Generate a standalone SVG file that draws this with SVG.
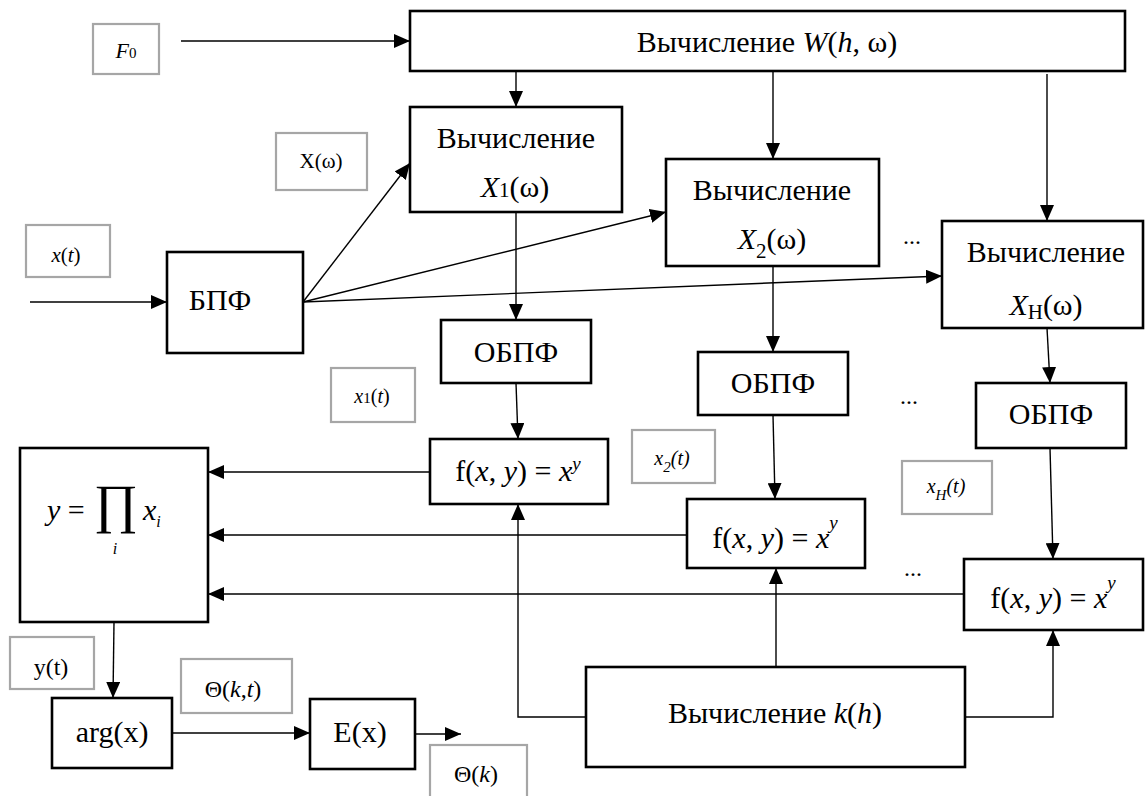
<svg xmlns="http://www.w3.org/2000/svg" width="1146" height="796" viewBox="0 0 1146 796">
<style>
.box{fill:#fff;stroke:#000;stroke-width:2.6}
.lab{fill:#fff;stroke:#a6a6a6;stroke-width:2.2}
.t{font-family:"Liberation Serif","Times New Roman",serif;font-size:30px;text-anchor:middle;fill:#000}
.s{font-family:"Liberation Serif","Times New Roman",serif;font-size:21px;text-anchor:middle;fill:#000}
.m{font-family:"Liberation Serif","Times New Roman",serif;font-size:24px;text-anchor:middle;fill:#000}
.i{font-style:italic}
.c line,.c polyline{stroke:#000;stroke-width:1.4;fill:none}
.a{marker-end:url(#arr)}
</style>
<defs>
<marker id="arr" markerUnits="userSpaceOnUse" viewBox="0 0 16 14" refX="16" refY="7" markerWidth="16" markerHeight="14" orient="auto">
<path d="M0,0 L16,7 L0,14 z" fill="#000"/>
</marker>
</defs>
<rect width="1146" height="796" fill="#fff"/>

<g id="connectors" class="c">
<line class="a" x1="181" y1="41" x2="410" y2="41"/>
<line class="a" x1="516" y1="71" x2="516" y2="107"/>
<line class="a" x1="773" y1="71" x2="773" y2="159"/>
<line class="a" x1="1047" y1="74" x2="1047" y2="221"/>
<line class="a" x1="30" y1="302" x2="167" y2="302"/>
<line class="a" x1="303" y1="302" x2="410" y2="163"/>
<line class="a" x1="303" y1="302" x2="666" y2="212"/>
<line class="a" x1="303" y1="302" x2="942" y2="276"/>
<line class="a" x1="516" y1="212" x2="516" y2="320"/>
<line class="a" x1="773" y1="266" x2="773" y2="352"/>
<line class="a" x1="1047" y1="328" x2="1050" y2="383"/>
<line class="a" x1="516" y1="383" x2="518" y2="439"/>
<line class="a" x1="773" y1="415" x2="775" y2="499"/>
<line class="a" x1="1050" y1="448" x2="1053" y2="559"/>
<line class="a" x1="430" y1="472" x2="208" y2="472"/>
<line class="a" x1="687" y1="535" x2="208" y2="535"/>
<line class="a" x1="964" y1="594" x2="208" y2="594"/>
<polyline class="a" points="586,717 518,717 518,504"/>
<line class="a" x1="776" y1="667" x2="776" y2="568"/>
<polyline class="a" points="965,717 1053,717 1053,630"/>
<line class="a" x1="114" y1="622" x2="113" y2="698"/>
<line class="a" x1="172" y1="733" x2="310" y2="733"/>
<line class="a" x1="415" y1="734" x2="461" y2="734"/>
</g>

<g id="lbl-F0"><rect class="lab" x="93" y="24" width="66" height="50"/><text class="s" x="126" y="58"><tspan class="i" style="font-size:22px">F</tspan><tspan style="font-size:15px">0</tspan></text></g>
<g id="lbl-Xw"><rect class="lab" x="276" y="133" width="91" height="57"/><text class="s" x="321" y="168">X(ω)</text></g>
<g id="lbl-xt"><rect class="lab" x="26" y="225" width="84" height="52"/><text class="s" x="66" y="262"><tspan class="i">x</tspan>(<tspan class="i">t</tspan>)</text></g>
<g id="lbl-x1t"><rect class="lab" x="331" y="368" width="84" height="54"/><text class="s" x="372" y="403" style="font-size:20px"><tspan class="i">x</tspan><tspan style="font-size:15px">1</tspan>(<tspan class="i">t</tspan>)</text></g>
<g id="lbl-x2t"><rect class="lab" x="632" y="430" width="83" height="53"/><text class="s i" x="672" y="465" style="font-size:20px">x<tspan style="font-size:15px" dy="7">2</tspan><tspan dy="-7">(t)</tspan></text></g>
<g id="lbl-xHt"><rect class="lab" x="902" y="461" width="90" height="53"/><text class="s i" x="946" y="493" style="font-size:20px">x<tspan style="font-size:15px" dy="7">H</tspan><tspan dy="-7">(t)</tspan></text></g>
<g id="lbl-yt"><rect class="lab" x="10" y="637" width="84" height="52"/><text class="m" x="51" y="675">y(t)</text></g>
<g id="lbl-theta-kt"><rect class="lab" x="181" y="659" width="111" height="54"/><text class="m" x="233" y="697">Θ(<tspan class="i">k</tspan>,<tspan class="i">t</tspan>)</text></g>
<g id="lbl-theta-k"><rect class="lab" x="430" y="745" width="97" height="60"/><text class="m" x="476" y="782">Θ(<tspan class="i">k</tspan>)</text></g>

<g id="W"><rect class="box" x="410" y="11" width="715" height="60"/><text class="t" x="767" y="52">Вычисление <tspan class="i">W</tspan>(<tspan class="i">h</tspan>, ω)</text></g>
<g id="X1"><rect class="box" x="410" y="107" width="212" height="105"/><text class="t" x="516" y="148">Вычисление</text><text class="t" x="515" y="197"><tspan class="i">X</tspan><tspan style="font-size:21px">1</tspan>(ω)</text></g>
<g id="X2"><rect class="box" x="666" y="159" width="213" height="107"/><text class="t" x="772" y="200">Вычисление</text><text class="t" x="772" y="249"><tspan class="i">X</tspan><tspan style="font-size:21px" dy="9">2</tspan><tspan dy="-9">(ω)</tspan></text></g>
<g id="XH"><rect class="box" x="942" y="221" width="201" height="107"/><text class="t" x="1046" y="262">Вычисление</text><text class="t" x="1046" y="315"><tspan class="i">X</tspan><tspan style="font-size:21px" dy="4">Н</tspan><tspan dy="-4">(ω)</tspan></text></g>
<g id="FFT"><rect class="box" x="167" y="252" width="136" height="101"/><text class="t" x="220" y="310">БПФ</text></g>
<g id="IFFT1"><rect class="box" x="441" y="320" width="150" height="63"/><text class="t" x="516" y="362">ОБПФ</text></g>
<g id="IFFT2"><rect class="box" x="698" y="352" width="150" height="63"/><text class="t" x="773" y="393">ОБПФ</text></g>
<g id="IFFT3"><rect class="box" x="976" y="383" width="150" height="65"/><text class="t" x="1051" y="424">ОБПФ</text></g>
<g id="F1"><rect class="box" x="430" y="439" width="178" height="65"/><text class="t" x="518" y="481">f(<tspan class="i">x</tspan>, <tspan class="i">y</tspan>) = <tspan class="i">x</tspan><tspan class="i" style="font-size:19px" dy="-11">y</tspan></text></g>
<g id="F2"><rect class="box" x="687" y="499" width="178" height="69"/><text class="t" x="775" y="548">f(<tspan class="i">x</tspan>, <tspan class="i">y</tspan>) = <tspan class="i">x</tspan><tspan class="i" style="font-size:19px" dy="-19">y</tspan></text></g>
<g id="F3"><rect class="box" x="964" y="559" width="179" height="71"/><text class="t" x="1053" y="608">f(<tspan class="i">x</tspan>, <tspan class="i">y</tspan>) = <tspan class="i">x</tspan><tspan class="i" style="font-size:19px" dy="-19">y</tspan></text></g>
<g id="PROD"><rect class="box" x="20" y="448" width="188" height="174"/>
<text class="t" x="47" y="520" style="text-anchor:start"><tspan class="i">y</tspan> =</text>
<text class="t" x="116" y="522" style="font-size:54px">∏</text>
<text class="t" x="143" y="520" style="text-anchor:start"><tspan class="i">x</tspan><tspan class="i" style="font-size:16px" dy="7">i</tspan></text>
<text class="t i" x="115" y="554" style="font-size:16px">i</text></g>
<g id="ARG"><rect class="box" x="52" y="698" width="120" height="70"/><text class="t" x="112" y="742">arg(x)</text></g>
<g id="E"><rect class="box" x="310" y="699" width="105" height="70"/><text class="t" x="360" y="742">E(x)</text></g>
<g id="K"><rect class="box" x="586" y="667" width="379" height="100"/><text class="t" x="775" y="723">Вычисление <tspan class="i">k</tspan>(<tspan class="i">h</tspan>)</text></g>

<g id="dots">
<text class="m" x="912" y="244">...</text>
<text class="m" x="909" y="404">...</text>
<text class="m" x="913" y="576">...</text>
</g>
</svg>
